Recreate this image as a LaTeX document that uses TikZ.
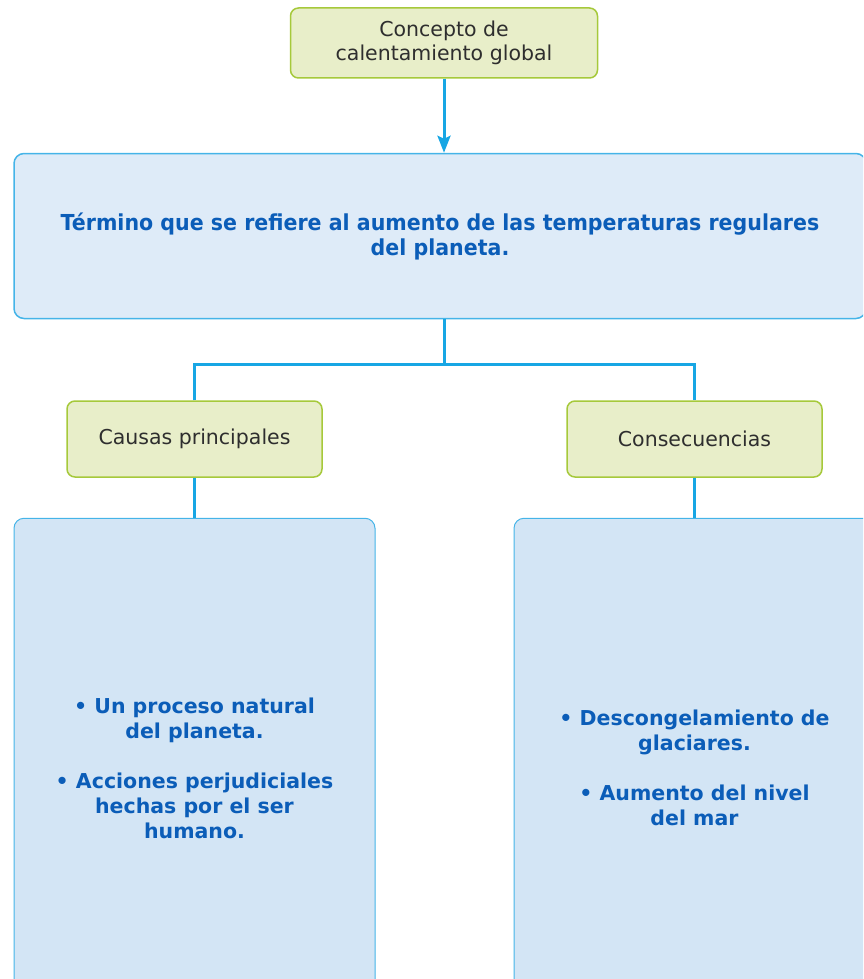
\documentclass[tikz,border=0pt]{standalone}
\usepackage{fontspec}
\setmainfont{DejaVu Sans}
\newfontfamily\condfont[FakeStretch=0.935]{DejaVu Sans}
\usepackage{tikz}
\usetikzlibrary{positioning, arrows.meta}
\definecolor{verdefondo}{HTML}{E8EEC9}
\definecolor{verdeborde}{HTML}{A6C93B}
\definecolor{textogris}{HTML}{2E2E2E}
\definecolor{azullinea}{HTML}{17A6E4}
\definecolor{azulborde}{HTML}{45B4E8}
\definecolor{azulfondo}{HTML}{DEEBF8}
\definecolor{azulcaja}{HTML}{D3E5F5}
\definecolor{azultexto}{HTML}{0B5DB8}

\begin{document}
\begin{tikzpicture}[x=1pt, y=-1pt,
		idea/.style={draw=verdeborde, fill=verdefondo, line width=1.5pt, rounded corners=8pt,
			text=textogris, font=\fontsize{20.5}{24}\selectfont, align=center, inner sep=0pt},
		definicion/.style={draw=azulborde, fill=azulfondo, line width=1.5pt, rounded corners=10pt,
			text=azultexto, font=\condfont\bfseries\fontsize{22}{25}\selectfont, align=center, inner sep=0pt,
			minimum width=852pt, minimum height=165pt},
		lista/.style={draw=azulborde, fill=azulcaja, line width=1pt, rounded corners=10pt,
			text=azultexto, font=\bfseries\fontsize{20.5}{25}\selectfont, align=center, inner sep=0pt,
			minimum width=361pt, minimum height=500pt},
		conector/.style={draw=azullinea, line width=3pt},
		flecha/.style={conector, -{Stealth[length=17pt, width=13pt, inset=3pt]}}]
		\useasboundingbox (0,0) rectangle (863,979);
		\clip (0,0) rectangle (863,979);
		
		\node[idea, minimum width=307pt, minimum height=70pt] (concepto) at (444,43) {Concepto de\\calentamiento global};
		\node[definicion, below=74pt of concepto, xshift=-4pt] (termino)
			{Término que se refiere al aumento de las temperaturas regulares\\del planeta.};
		
		\node[idea, minimum width=255pt, minimum height=76pt] (causas) at (194.5,439) {Causas principales};
		\node[idea, minimum width=255pt, minimum height=76pt] (consec) at (694.5,439) {Consecuencias};
		
		\node[lista, below=40pt of causas] (listacausas)
			{• Un proceso natural\\del planeta.\\[25pt]• Acciones perjudiciales\\hechas por el ser\\humano.};
		\node[lista, below=40pt of consec] (listaconsec)
			{• Descongelamiento de\\glaciares.\\[25pt]• Aumento del nivel\\del mar};
		
		\draw[flecha] (concepto) -- (concepto |- termino.north);
		\draw[conector] (concepto |- termino.south) -- ++(0,45) coordinate (junta);
		\draw[conector] (causas) |- (junta) -| (consec);
		\draw[conector] (causas) -- (causas |- listacausas.north);
		\draw[conector] (consec) -- (consec |- listaconsec.north);
	\end{tikzpicture}
\end{document}
